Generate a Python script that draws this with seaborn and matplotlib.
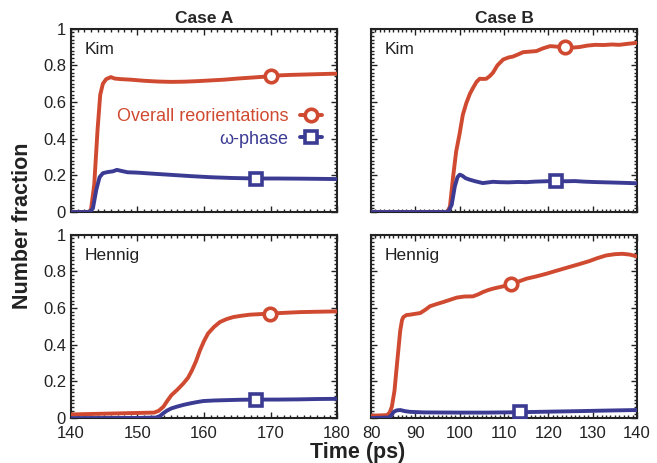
import numpy as np
import pandas as pd
import matplotlib
matplotlib.use("Agg")
import matplotlib.pyplot as plt
from matplotlib.lines import Line2D
from matplotlib.ticker import MultipleLocator, FuncFormatter
import seaborn as sns

# ---------------- data ----------------
col_titles = ["Case A", "Case B"]
row_labels = ["Kim", "Hennig"]
series_names = ["Overall reorientations", "ω-phase"]
xlims = [(140, 180), (80, 140)]
xticks_A = [140, 150, 160, 170, 180]
xticks_B = [80, 90, 100, 110, 120, 130, 140]
yticks = [0, 0.2, 0.4, 0.6, 0.8, 1]

# Case A, Kim
a_kim_red_x = [140, 142.5, 143.0, 143.5, 144.0, 144.4, 144.8, 145.3, 146.0, 146.6, 147.5, 149, 151, 153, 155,
               157, 159, 161, 163, 165, 167, 169, 170, 171, 173, 175, 177, 180]
a_kim_red_y = [0, 0, 0.01, 0.15, 0.45, 0.64, 0.70, 0.725, 0.736, 0.728, 0.725, 0.722, 0.716, 0.712, 0.710,
               0.711, 0.714, 0.718, 0.722, 0.728, 0.733, 0.738, 0.740, 0.745, 0.748, 0.750, 0.752, 0.755]
a_kim_blue_x = [140, 142.8, 143.3, 143.8, 144.3, 144.8, 145.5, 146.3, 146.9, 147.5, 148.5, 150, 152, 155, 158,
                161, 164, 167.8, 171, 175, 180]
a_kim_blue_y = [0, 0, 0.02, 0.12, 0.19, 0.212, 0.218, 0.222, 0.230, 0.225, 0.217, 0.215, 0.21, 0.203, 0.196,
                0.19, 0.186, 0.183, 0.183, 0.182, 0.18]

# Case B, Kim
b_kim_red_x = [80, 97.2, 97.8, 98.5, 99.2, 100, 100.7, 101.5, 102.3, 103, 103.8, 104.5, 105.3, 106, 106.8,
               107.5, 108.5, 109.8, 111, 112, 113, 114.3, 115.8, 117.3, 118.8, 120.4, 122, 123.7, 125.5,
               127, 128.8, 130.6, 132.5, 134.3, 136, 138, 140]
b_kim_red_y = [0, 0, 0.03, 0.19, 0.33, 0.43, 0.53, 0.595, 0.645, 0.677, 0.71, 0.727, 0.726, 0.727, 0.742,
               0.76, 0.80, 0.832, 0.843, 0.848, 0.858, 0.872, 0.875, 0.878, 0.893, 0.905, 0.902, 0.90, 0.897,
               0.90, 0.908, 0.912, 0.911, 0.914, 0.912, 0.918, 0.923]
b_kim_blue_x = [80, 97.4, 98.2, 98.9, 99.5, 100, 100.6, 101.3, 102.2, 103.5, 105.2, 106.5, 107.5, 109, 111,
                113, 115, 117, 119.5, 121.7, 124, 126, 128, 130, 133, 136, 140]
b_kim_blue_y = [0, 0, 0.04, 0.14, 0.19, 0.204, 0.198, 0.185, 0.177, 0.168, 0.158, 0.162, 0.165, 0.163, 0.162,
                0.164, 0.163, 0.166, 0.168, 0.17, 0.168, 0.169, 0.166, 0.164, 0.162, 0.16, 0.157]

# Case A, Hennig
a_hen_red_x = [140, 145, 150, 152.5, 153.2, 153.9, 154.5, 155.1, 156, 156.9, 157.6, 158.2, 158.8, 159.4, 160,
               160.6, 161.5, 162.4, 163.4, 164.4, 165.6, 166.9, 168.4, 169.9, 172, 174.4, 177, 180]
a_hen_red_y = [0.02, 0.024, 0.028, 0.03, 0.04, 0.062, 0.095, 0.125, 0.155, 0.189, 0.22, 0.261, 0.31, 0.37, 0.42,
               0.461, 0.497, 0.524, 0.54, 0.551, 0.558, 0.564, 0.567, 0.57, 0.574, 0.578, 0.58, 0.582]
a_hen_blue_x = [140, 150, 152.8, 153.4, 153.9, 154.4, 155.1, 155.9, 156.9, 157.9, 158.9, 159.9, 161.5, 163.4,
                165.5, 167.8, 171, 174, 177, 180]
a_hen_blue_y = [0.0, 0.001, 0.003, 0.012, 0.027, 0.04, 0.053, 0.062, 0.072, 0.08, 0.087, 0.093, 0.096, 0.098,
                0.1, 0.101, 0.101, 0.102, 0.104, 0.105]

# Case B, Hennig
b_hen_red_x = [80, 83.6, 84.2, 84.7, 85.3, 85.8, 86.2, 86.6, 87.0, 87.3, 88, 88.8, 89.8, 91.1, 92.2, 93.3,
               94.8, 96.3, 97.8, 99.3, 101, 103, 104.2, 105.3, 106.4, 107.5, 109.5, 111.6, 113.3, 115, 117.3,
               119.5, 122, 124.7, 127, 129.2, 131, 133, 135, 136.7, 138.3, 140]
b_hen_red_y = [0.013, 0.016, 0.03, 0.062, 0.15, 0.28, 0.38, 0.479, 0.535, 0.551, 0.562, 0.564, 0.568, 0.573,
               0.59, 0.61, 0.622, 0.633, 0.645, 0.657, 0.663, 0.664, 0.675, 0.688, 0.698, 0.706, 0.717, 0.729,
               0.745, 0.76, 0.773, 0.787, 0.805, 0.824, 0.84, 0.856, 0.872, 0.887, 0.894, 0.896, 0.892, 0.882]
b_hen_blue_x = [80, 84, 84.6, 85.1, 85.8, 86.6, 87.6, 88.8, 92, 100, 106, 113.5, 120, 127, 133, 140]
b_hen_blue_y = [0.0, 0.003, 0.015, 0.034, 0.042, 0.044, 0.038, 0.034, 0.031, 0.03, 0.03, 0.032, 0.035, 0.038,
                0.041, 0.044]

# x positions of the single marker drawn on each curve
marker_red_x = {(0, 0): 170, (0, 1): 123.7, (1, 0): 169.9, (1, 1): 111.6}
marker_blue_x = {(0, 0): 167.8, (0, 1): 121.7, (1, 0): 167.8, (1, 1): 113.5}

panels = {
    (0, 0): (a_kim_red_x, a_kim_red_y, a_kim_blue_x, a_kim_blue_y),
    (0, 1): (b_kim_red_x, b_kim_red_y, b_kim_blue_x, b_kim_blue_y),
    (1, 0): (a_hen_red_x, a_hen_red_y, a_hen_blue_x, a_hen_blue_y),
    (1, 1): (b_hen_red_x, b_hen_red_y, b_hen_blue_x, b_hen_blue_y),
}

RED = "#cf4a30"
BLUE = "#3b3b94"

# ---------------- style ----------------
sns.set_style("ticks")
plt.rcParams["font.family"] = ["Liberation Sans", "DejaVu Sans"]
plt.rcParams["axes.linewidth"] = 1.5

fig = plt.figure(figsize=(6.57, 4.63), dpi=100)
lefts = [0.108, 0.5647]
width = 0.405
bottoms = [0.542, 0.097]
height = 0.396

LW = 2.8
for (r, c), (rx, ry, bx, by) in panels.items():
    ax = fig.add_axes([lefts[c], bottoms[r], width, height])
    dfr = pd.DataFrame({"x": rx, "y": ry})
    dfb = pd.DataFrame({"x": bx, "y": by})
    sns.lineplot(data=dfr, x="x", y="y", ax=ax, color=RED, lw=LW, errorbar=None, sort=False,
                 marker="o", markevery=[rx.index(marker_red_x[(r, c)])], ms=9,
                 mfc="white", mec=RED, mew=2.6, zorder=3)
    sns.lineplot(data=dfb, x="x", y="y", ax=ax, color=BLUE, lw=LW, errorbar=None, sort=False,
                 marker="s", markevery=[bx.index(marker_blue_x[(r, c)])], ms=8.5,
                 mfc="white", mec=BLUE, mew=2.6, zorder=3)
    ax.set_xlim(*xlims[c])
    ax.set_ylim(0, 1)
    ax.set_xlabel("")
    ax.set_ylabel("")
    ax.set_xticks(xticks_A if c == 0 else xticks_B)
    ax.set_yticks(yticks)
    ax.xaxis.set_minor_locator(MultipleLocator(1))
    ax.yaxis.set_minor_locator(MultipleLocator(0.02))
    ax.tick_params(which="both", direction="in", top=True, right=True, width=1.0, colors="#222222",
                   labelsize=12, labelcolor="#222222")
    ax.tick_params(which="major", length=4.5)
    ax.tick_params(which="minor", length=2.2)
    ax.yaxis.set_major_formatter(FuncFormatter(lambda v, p: "%g" % v))
    ax.tick_params(axis="x", pad=6)
    ax.tick_params(axis="y", pad=3.5)
    if r == 0:
        ax.tick_params(labelbottom=False)
        ax.set_title(col_titles[c], fontsize=12.5, fontweight="bold", pad=4)
    if c == 1:
        ax.tick_params(labelleft=False)
    for s in ax.spines.values():
        s.set_linewidth(1.5)
        s.set_color("#222222")
    ax.text(0.05, 0.93, row_labels[r], transform=ax.transAxes, fontsize=12.5, va="top", ha="left",
            color="#222222")
    if (r, c) == (0, 0):
        handles = [
            Line2D([], [], color=RED, lw=LW, marker="o", ms=9, mfc="white", mec=RED, mew=2.6),
            Line2D([], [], color=BLUE, lw=LW, marker="s", ms=8.5, mfc="white", mec=BLUE, mew=2.6),
        ]
        leg = ax.legend(handles, series_names, loc="center right", bbox_to_anchor=(0.944, 0.458),
                        frameon=False, markerfirst=False, fontsize=13, handlelength=1.2,
                        handletextpad=0.65, labelspacing=0.3, borderpad=0, borderaxespad=0)
        for t, colr in zip(leg.get_texts(), [RED, BLUE]):
            t.set_color(colr)

fig.text(0.034, 0.512, "Number fraction", rotation=90, fontsize=15.5, fontweight="bold",
         ha="center", va="center", color="#222222")
fig.text(0.545, 0.0, "Time (ps)", fontsize=15.5, fontweight="bold", ha="center", va="bottom",
         color="#222222")

fig.savefig("out.png", dpi=100)
